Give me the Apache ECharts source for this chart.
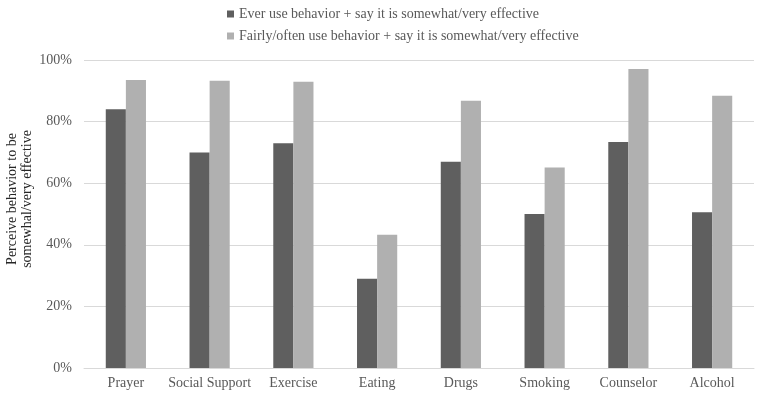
<!DOCTYPE html>
<html><head><meta charset="utf-8">
<script src="https://cdn.jsdelivr.net/npm/echarts@6/dist/echarts.min.js"></script>
<style>html,body{margin:0;padding:0;background:#fff}#c{width:762px;height:400px}</style>
</head><body><div id="c"></div>
<script>
var categories = ["Prayer","Social Support","Exercise","Eating","Drugs","Smoking","Counselor","Alcohol"];
var seriesNames = ["Ever use behavior + say it is somewhat/very effective","Fairly/often use behavior + say it is somewhat/very effective"];
var everUse = [0.84,0.70,0.73,0.29,0.67,0.50,0.734,0.506];
var fairlyOften = [0.935,0.933,0.929,0.433,0.868,0.651,0.971,0.884];
var yAxisTitle = "Perceive behavior to be\nsomewhal/very effective";

var font = "Liberation Serif";
var chart = echarts.init(document.getElementById('c'), null, {renderer:'canvas'});
chart.setOption({
  animation:false,
  textStyle:{fontFamily:font},
  legend:{
    orient:'vertical', left:222, top:2, itemGap:8,
    itemWidth:7, itemHeight:7, icon:'rect',
    textStyle:{fontFamily:font, fontSize:14, color:'#595959'},
    data:seriesNames
  },
  grid:{left:84, right:8, top:60, bottom:32, containLabel:false, outerBoundsMode:'none'},
  xAxis:{
    type:'category', data:categories,
    axisLine:{lineStyle:{color:'#d9d9d9'}},
    axisTick:{show:false},
    axisLabel:{color:'#595959', fontFamily:font, fontSize:14, margin:8, interval:0}
  },
  yAxis:{
    type:'value', min:0, max:1, interval:0.2,
    name:yAxisTitle, nameLocation:'middle', nameRotate:90, nameGap:49, nameMoveOverlap:false,
    nameTextStyle:{color:'#262626', fontFamily:font, fontSize:14, lineHeight:15, padding:[0,0,0,30]},
    axisLine:{show:false}, axisTick:{show:false},
    splitLine:{lineStyle:{color:'#d9d9d9'}},
    axisLabel:{color:'#595959', fontFamily:font, fontSize:14, margin:12,
      formatter:function(v){return Math.round(v*100)+'%';}}
  },
  series:[
    {name:seriesNames[0], type:'bar', data:everUse, barGap:'0%', barCategoryGap:'52%', itemStyle:{color:'#5f5f5f'}},
    {name:seriesNames[1], type:'bar', data:fairlyOften, barGap:'0%', barCategoryGap:'52%', itemStyle:{color:'#b0b0b0'}}
  ]
});
</script></body></html>
